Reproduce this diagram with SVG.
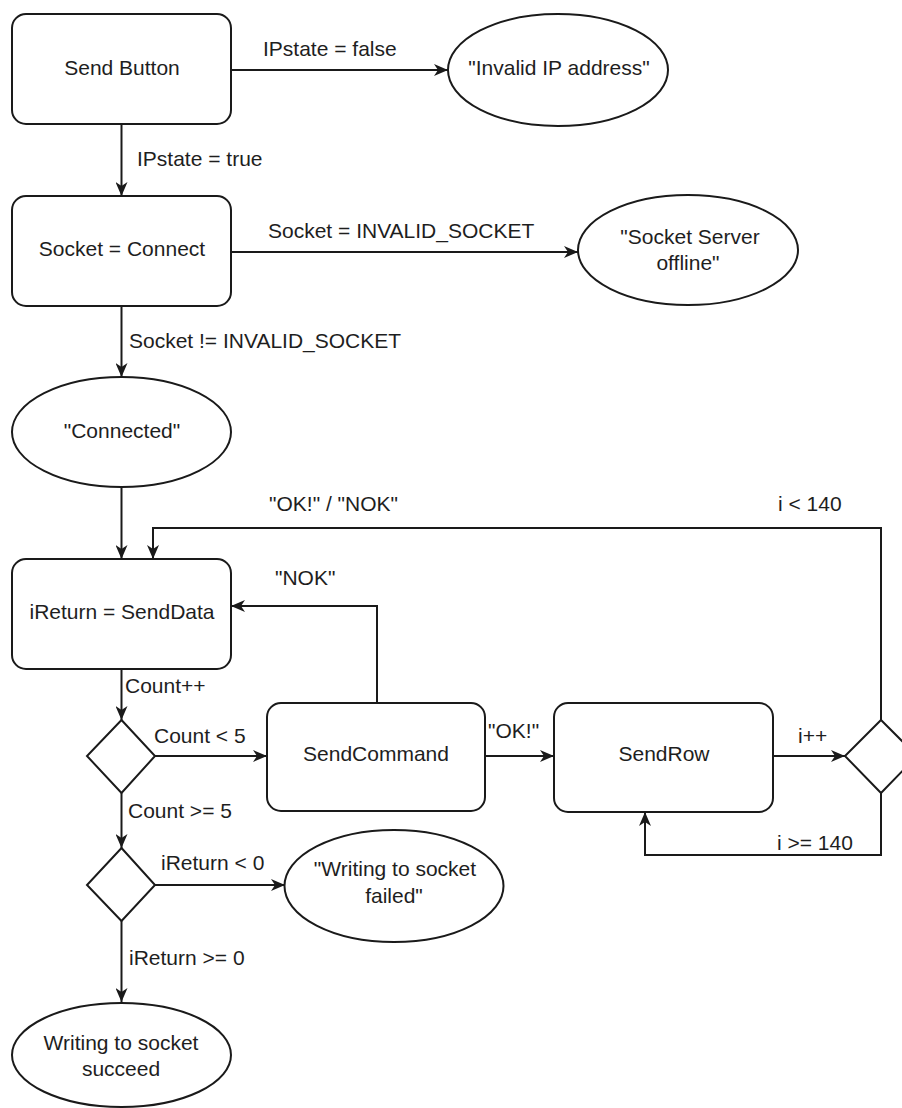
<svg xmlns="http://www.w3.org/2000/svg" width="902" height="1108" viewBox="0 0 902 1108">
<style>
.n{fill:#fff;stroke:#1a1a1a;stroke-width:2}
.c{fill:none;stroke:#1a1a1a;stroke-width:2}
.t{font-family:"Liberation Sans",Arial,sans-serif;font-size:21px;fill:#1e1e1e}
.m{text-anchor:middle;dominant-baseline:central}
.l{dominant-baseline:central}
</style>
<defs>
<marker id="ah" viewBox="0 0 14 12" markerWidth="14" markerHeight="12" refX="14" refY="6" orient="auto" markerUnits="userSpaceOnUse">
<path d="M0,0 L14,6 L0,12 L4,6 Z" fill="#1a1a1a"/>
</marker>
</defs>
<rect width="902" height="1108" fill="#fff"/>
<g id="connectors">
<path class="c" d="M231,70 H448" marker-end="url(#ah)"/>
<path class="c" d="M121.5,124 V196" marker-end="url(#ah)"/>
<path class="c" d="M231,252 H578" marker-end="url(#ah)"/>
<path class="c" d="M121.5,306 V377" marker-end="url(#ah)"/>
<path class="c" d="M121.5,487 V559" marker-end="url(#ah)"/>
<path class="c" d="M881,720 V528 H153 V559" marker-end="url(#ah)"/>
<path class="c" d="M377,703 V606 H231" marker-end="url(#ah)"/>
<path class="c" d="M121.5,669 V720" marker-end="url(#ah)"/>
<path class="c" d="M155,756 H267" marker-end="url(#ah)"/>
<path class="c" d="M485,756 H554" marker-end="url(#ah)"/>
<path class="c" d="M773,756 H845" marker-end="url(#ah)"/>
<path class="c" d="M881,793 V855 H645 V812" marker-end="url(#ah)"/>
<path class="c" d="M121.5,793 V848" marker-end="url(#ah)"/>
<path class="c" d="M155,885 H285" marker-end="url(#ah)"/>
<path class="c" d="M121.5,921 V1002" marker-end="url(#ah)"/>
<text class="t l" x="263" y="48">IPstate = false</text>
<text class="t l" x="137" y="158">IPstate = true</text>
<text class="t l" x="268" y="230">Socket = INVALID_SOCKET</text>
<text class="t l" x="129" y="340">Socket != INVALID_SOCKET</text>
<text class="t l" x="269" y="503">"OK!" / "NOK"</text>
<text class="t l" x="778" y="503">i &lt; 140</text>
<text class="t l" x="275" y="577">"NOK"</text>
<text class="t l" x="125" y="685">Count++</text>
<text class="t l" x="154" y="735">Count &lt; 5</text>
<text class="t l" x="488" y="730">"OK!"</text>
<text class="t l" x="798" y="735">i++</text>
<text class="t l" x="128" y="810">Count &gt;= 5</text>
<text class="t l" x="777" y="842">i &gt;= 140</text>
<text class="t l" x="161" y="862">iReturn &lt; 0</text>
<text class="t l" x="129" y="957">iReturn &gt;= 0</text>
</g>
<g id="send-button">
<rect class="n" x="12" y="14" width="219" height="110" rx="14"/>
<text class="t m" x="122" y="67">Send Button</text>
</g>
<g id="invalid-ip">
<ellipse class="n" cx="558" cy="70" rx="110" ry="56"/>
<text class="t m" x="559" y="67">"Invalid IP address"</text>
</g>
<g id="socket-connect">
<rect class="n" x="12" y="196" width="219" height="110" rx="14"/>
<text class="t m" x="122" y="248">Socket = Connect</text>
</g>
<g id="server-offline">
<ellipse class="n" cx="688" cy="250" rx="110" ry="55"/>
<text class="t m" x="690" y="236">"Socket Server</text>
<text class="t m" x="688" y="262">offline"</text>
</g>
<g id="connected">
<ellipse class="n" cx="121.5" cy="432" rx="109.5" ry="55"/>
<text class="t m" x="122" y="430">"Connected"</text>
</g>
<g id="send-data">
<rect class="n" x="12" y="559" width="219" height="110" rx="14"/>
<text class="t m" x="122" y="611">iReturn = SendData</text>
</g>
<g id="count-check">
<polygon class="n" points="121.5,720 155,756 121.5,793 87,756"/>
</g>
<g id="send-command">
<rect class="n" x="267" y="703" width="218" height="108" rx="14"/>
<text class="t m" x="376" y="753">SendCommand</text>
</g>
<g id="send-row">
<rect class="n" x="554" y="703" width="219" height="109" rx="14"/>
<text class="t m" x="664" y="753">SendRow</text>
</g>
<g id="row-check">
<polygon class="n" points="881,720 917,756 881,793 845,756"/>
</g>
<g id="ireturn-check">
<polygon class="n" points="121.5,848 155,885 121.5,921 87,885"/>
</g>
<g id="write-failed">
<ellipse class="n" cx="394" cy="886" rx="109.5" ry="56"/>
<text class="t m" x="395" y="868">"Writing to socket</text>
<text class="t m" x="394" y="895">failed"</text>
</g>
<g id="write-succeed">
<ellipse class="n" cx="121.5" cy="1055" rx="109.5" ry="52"/>
<text class="t m" x="121" y="1042">Writing to socket</text>
<text class="t m" x="121" y="1068">succeed</text>
</g>
</svg>
